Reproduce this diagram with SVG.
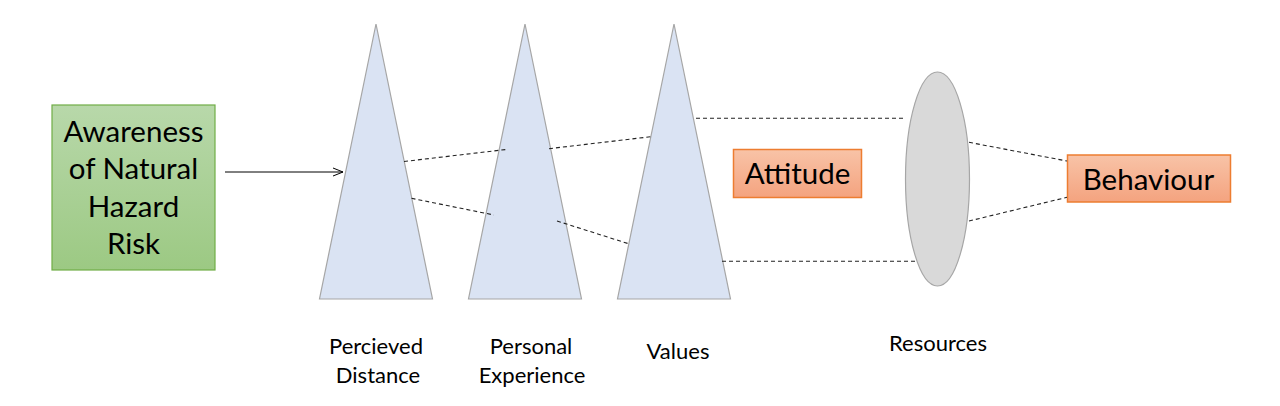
<svg xmlns="http://www.w3.org/2000/svg" width="1280" height="406" viewBox="0 0 1280 406">
<defs>
<linearGradient id="gGreen" x1="0" y1="0" x2="0" y2="1"><stop offset="0" stop-color="#B8D8AA"/><stop offset="1" stop-color="#9CC983"/></linearGradient>
<linearGradient id="gOrange" x1="0" y1="0" x2="0" y2="1"><stop offset="0" stop-color="#F8C3A7"/><stop offset="1" stop-color="#F4A37F"/></linearGradient>
<marker id="openArrow" markerWidth="12" markerHeight="10" refX="11" refY="5" orient="auto" markerUnits="userSpaceOnUse"><path d="M1,1 L11,5 L1,9" fill="none" stroke="#000" stroke-width="1"/></marker>
<style>
.tri{fill:#DAE3F3;stroke:#A6A6A6;stroke-width:1.2}
.ell{fill:#D9D9D9;stroke:#A6A6A6;stroke-width:1.2}
.green{fill:url(#gGreen);stroke:#70AD47;stroke-width:1.2}
.orange{fill:url(#gOrange);stroke:#ED7D31;stroke-width:1.5}
.big{font-family:Lato,"Open Sans",sans-serif;font-size:29.5px;fill:#000;text-anchor:middle}
.small{font-family:Lato,"Open Sans",sans-serif;font-size:22px;fill:#000;text-anchor:middle}
.dash{stroke:#222;stroke-width:1.1;stroke-dasharray:4,3;fill:none}
.arrow{stroke:#000;stroke-width:1;fill:none}
</style>
</defs>
<g id="awareness">
<rect class="green" x="52" y="105" width="163" height="165"/>
<text class="big" x="133.5" y="142">Awareness</text>
<text class="big" x="133.5" y="179">of Natural</text>
<text class="big" x="133.5" y="217">Hazard</text>
<text class="big" x="133.5" y="254">Risk</text>
</g>
<g id="perceived-distance">
<polygon class="tri" points="376,24 432.5,299 319.5,299"/>
<text class="small" x="376" y="354">Percieved</text>
<text class="small" x="378" y="383">Distance</text>
</g>
<g id="personal-experience">
<polygon class="tri" points="525,24 581.5,299 468.5,299"/>
<text class="small" x="531" y="354">Personal</text>
<text class="small" x="532" y="383">Experience</text>
</g>
<g id="values">
<polygon class="tri" points="674,24 730.5,299 617.5,299"/>
<text class="small" x="678" y="359">Values</text>
</g>
<g id="attitude">
<rect class="orange" x="733.5" y="149.5" width="128" height="48"/>
<text class="big" x="797.5" y="184">Attitude</text>
</g>
<g id="resources">
<ellipse class="ell" cx="937.5" cy="179" rx="32" ry="107"/>
<text class="small" x="938" y="351">Resources</text>
</g>
<g id="behaviour">
<rect class="orange" x="1067.5" y="155" width="163" height="47"/>
<text class="big" x="1148.5" y="190">Behaviour</text>
</g>
<g id="connectors">
<line class="arrow" x1="225" y1="172" x2="343" y2="172" marker-end="url(#openArrow)"/>
<line class="dash" x1="404" y1="161.5" x2="506" y2="149.5"/>
<line class="dash" x1="549" y1="148.7" x2="651" y2="136.7"/>
<line class="dash" x1="411.5" y1="198.3" x2="494" y2="215"/>
<line class="dash" x1="557" y1="221" x2="628.5" y2="243.7"/>
<line class="dash" x1="696" y1="118.3" x2="904" y2="118.3"/>
<line class="dash" x1="722" y1="261.3" x2="915" y2="261.3"/>
<line class="dash" x1="969" y1="142.3" x2="1067" y2="161"/>
<line class="dash" x1="969" y1="221" x2="1067" y2="197.3"/>
</g>
</svg>
